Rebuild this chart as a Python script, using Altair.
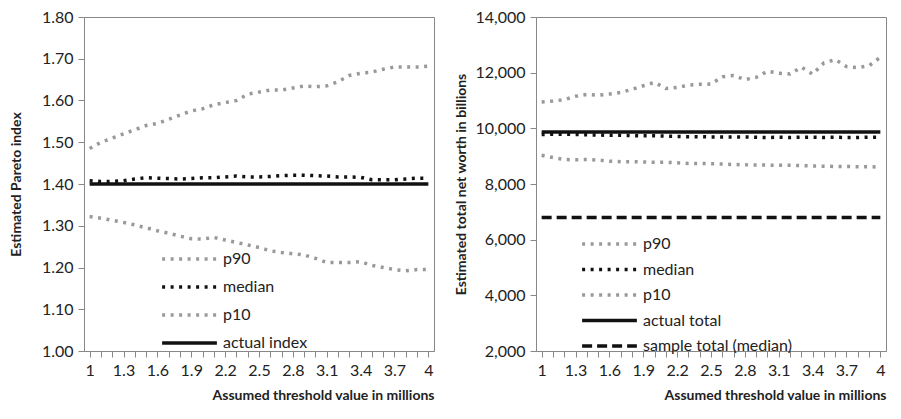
import pandas as pd
import altair as alt

thresholds = [round(1 + 0.1 * i, 1) for i in range(31)]
tick_labels = ["1", "1.3", "1.6", "1.9", "2.2", "2.5", "2.8", "3.1", "3.4", "3.7", "4"]

idx_p90 = [1.485, 1.50, 1.51, 1.52, 1.53, 1.54, 1.545, 1.555, 1.565, 1.575, 1.58,
           1.59, 1.595, 1.60, 1.615, 1.62, 1.625, 1.625, 1.63, 1.635, 1.633, 1.635,
           1.645, 1.66, 1.665, 1.668, 1.675, 1.68, 1.68, 1.68, 1.682]
idx_median = [1.408, 1.406, 1.406, 1.408, 1.412, 1.415, 1.414, 1.413, 1.412, 1.413, 1.415,
              1.415, 1.417, 1.419, 1.417, 1.417, 1.418, 1.420, 1.421, 1.421, 1.420, 1.419,
              1.417, 1.417, 1.416, 1.410, 1.410, 1.410, 1.412, 1.414, 1.414]
idx_p10 = [1.322, 1.318, 1.313, 1.308, 1.302, 1.295, 1.288, 1.282, 1.275, 1.269, 1.268,
           1.272, 1.266, 1.260, 1.254, 1.248, 1.240, 1.236, 1.233, 1.230, 1.222, 1.212,
           1.212, 1.212, 1.214, 1.205, 1.200, 1.195, 1.192, 1.195, 1.195]
idx_actual = 1.40

tot_p90 = [10950, 10980, 11030, 11150, 11220, 11190, 11230, 11290, 11400, 11530, 11650,
           11430, 11470, 11550, 11580, 11590, 11850, 11900, 11750, 11830, 12050, 11980,
           11950, 12200, 11950, 12350, 12470, 12220, 12180, 12250, 12550]
tot_median = [9780, 9790, 9790, 9780, 9770, 9760, 9750, 9750, 9740, 9730, 9730,
              9720, 9710, 9700, 9700, 9690, 9690, 9690, 9690, 9680, 9670, 9680,
              9670, 9680, 9680, 9670, 9680, 9670, 9670, 9680, 9680]
tot_p10 = [9030, 8950, 8880, 8870, 8880, 8860, 8820, 8800, 8800, 8790, 8780,
           8780, 8760, 8740, 8740, 8730, 8720, 8700, 8690, 8680, 8680, 8670,
           8670, 8660, 8650, 8640, 8630, 8630, 8620, 8620, 8610]
tot_actual = 9870
tot_sample = 6800

FONT = "Lato"
DOT = [3, 5.5]


def long_df(series):
    rows = []
    for name, vals in series:
        for t, v in zip(thresholds, vals):
            rows.append({"t": t, "v": v, "s": name})
    return pd.DataFrame(rows)


def panel(series, styles, ytitle, ydomain, ystep, yfmt, lx, ly, rowpad, tpad):
    df = long_df(series)
    names = [s[0] for s in series]
    label_list = str(tick_labels).replace("'", '"')
    x = alt.X("t:Q", title="Assumed threshold value in millions",
              scale=alt.Scale(domain=[0.95, 4.05], nice=False, zero=False),
              axis=alt.Axis(values=thresholds, grid=False,
                            labelExpr="indexof(" + label_list + ", format(datum.value, '.1~f')) >= 0 ? format(datum.value, '.1~f') : ''",
                            titleAlign="right", titleAnchor="end", titlePadding=10))
    nticks = int(round((ydomain[1] - ydomain[0]) / ystep)) + 1
    y = alt.Y("v:Q", title=ytitle,
              scale=alt.Scale(domain=ydomain, nice=False),
              axis=alt.Axis(values=[ydomain[0] + ystep * i for i in range(nticks)],
                            format=yfmt, grid=False, titlePadding=tpad))
    return alt.Chart(df).mark_line().encode(
        x=x, y=y,
        color=alt.Color("s:N", sort=names, scale=alt.Scale(domain=names, range=[st[0] for st in styles]),
                        legend=alt.Legend(title=None, orient="none", legendX=lx, legendY=ly,
                                          symbolType="stroke", symbolSize=3000, clipHeight=18,
                                          labelFontSize=16, labelFont=FONT, rowPadding=rowpad,
                                          symbolStrokeWidth=3.5, labelColor="#222", labelOffset=4)),
        strokeDash=alt.StrokeDash("s:N", sort=names, scale=alt.Scale(domain=names, range=[st[1] for st in styles]), legend=None),
        strokeWidth=alt.StrokeWidth("s:N", sort=names, scale=alt.Scale(domain=names, range=[st[2] for st in styles]), legend=None),
    ).properties(width=350, height=334)


left = panel(
    [("p90", idx_p90), ("median", idx_median), ("p10", idx_p10),
     ("actual index", [idx_actual] * 31)],
    [("#999999", DOT, 3.5), ("#111111", DOT, 3.5), ("#999999", DOT, 3.5), ("#111111", [1, 0], 3)],
    "Estimated Pareto index", [1.0, 1.8], 0.1, ".2f", 76, 233, 10, 18)

right = panel(
    [("p90", tot_p90), ("median", tot_median), ("p10", tot_p10),
     ("actual total", [tot_actual] * 31), ("sample total (median)", [tot_sample] * 31)],
    [("#999999", DOT, 3.5), ("#111111", DOT, 3.5), ("#999999", DOT, 3.5), ("#111111", [1, 0], 3),
     ("#111111", [10, 5], 3)],
    "Estimated total net worth  in billions", [2000, 14000], 2000, ",.0f", 44, 218, 7.5, 6)

chart = alt.hconcat(left, right, spacing=18).resolve_scale(
    color="independent", strokeDash="independent", strokeWidth="independent"
).resolve_legend(color="independent").properties(
    padding={"left": 0, "top": 0, "right": 0, "bottom": 0}
).configure_view(stroke="#888", strokeWidth=1).configure_axis(
    labelFont=FONT, titleFont=FONT, labelFontSize=16, titleFontSize=14, labelColor="#222",
    titleColor="#222", domainColor="#888", tickColor="#888", tickSize=6, labelPadding=5
)

chart.save("out.html", embed_options={"renderer": "svg", "actions": False})
